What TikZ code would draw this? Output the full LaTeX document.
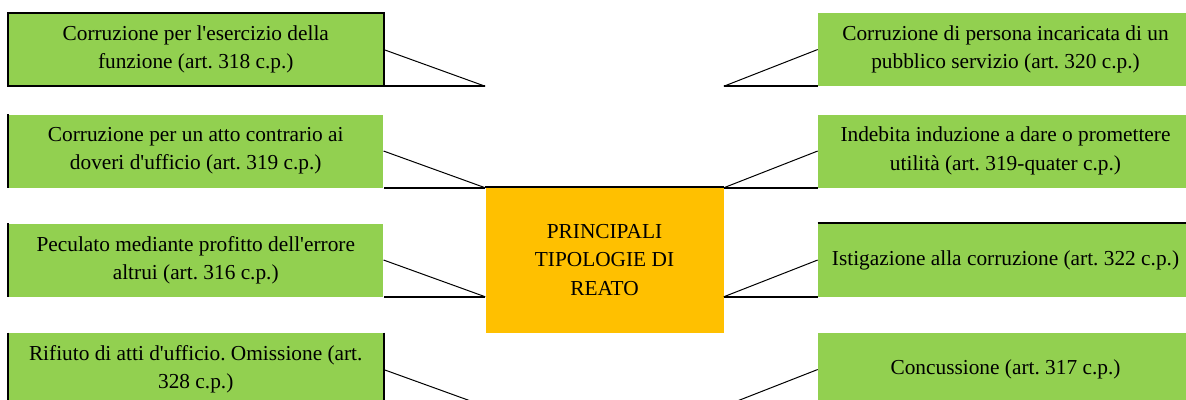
\documentclass[tikz,border=0pt]{standalone}
\usepackage{fontspec}
\setmainfont{Liberation Serif}
\usepackage{tikz}
\usetikzlibrary{positioning,calc}
\frenchspacing
\definecolor{boxGreen}{HTML}{92D050}
\definecolor{boxOrange}{HTML}{FFC000}
\newcommand{\ap}{\textquotesingle}
\tikzstyle{nG}=[rectangle,fill=boxGreen,minimum width=281.25pt,minimum height=54.75pt,inner sep=0pt,align=center,font=\fontsize{16}{21.2}\selectfont]
\tikzstyle{nC}=[rectangle,fill=boxOrange,minimum width=178.5pt,minimum height=109.5pt,inner sep=0pt,align=center,font=\fontsize{16}{21.2}\selectfont]
\tikzstyle{eThin}=[draw=black,line width=0.75pt]
\tikzstyle{eBlack}=[draw=black,line width=1.5pt]

\begin{document}
\begin{tikzpicture}[x=0.75pt,y=-0.75pt]
                \clip (0,0) rectangle (1186,400);
                \draw (604.5,260) node[nC] (c) {PRINCIPALI\\TIPOLOGIE DI\\REATO};
                \draw (195.75,49.5) node[nG] (l1) {Corruzione per l\ap esercizio della\\funzione (art. 318 c.p.)};
                \draw (195.75,151) node[nG] (l2) {Corruzione per un atto contrario ai\\doveri d\ap ufficio (art. 319 c.p.)};
                \draw (195.75,260) node[nG] (l3) {Peculato mediante profitto dell\ap errore\\altrui (art. 316 c.p.)};
                \draw (195.75,369.5) node[nG] (l4) {Rifiuto di atti d\ap ufficio. Omissione (art.\\328 c.p.)};
                \draw (1005.5,49.5) node[nG] (r1) {Corruzione di persona incaricata di un\\pubblico servizio (art. 320 c.p.)};
                \draw (1005.5,151) node[nG] (r2) {Indebita induzione a dare o promettere\\utilità (art. 319-quater c.p.)};
                \draw (1005.5,260) node[nG] (r3) {Istigazione alla corruzione (art. 322 c.p.)};
                \draw (1005.5,369.5) node[nG] (r4) {Concussione (art. 317 c.p.)};
                % borders
                \draw[eBlack] (l1.south west) rectangle (l1.north east);
                \draw[eBlack] (l2.north west) -- (l2.south west);
                \draw[eBlack] (l3.north west) -- (l3.south west);
                \draw[eBlack] (l4.north west) -- (l4.south west);
                \draw[eBlack] (l4.north east) -- (l4.south east);
                \draw[eBlack] (r3.north west) -- (r3.north east);
                \draw[eBlack] (c.north west) -- (c.north east);
                % callout points
                \coordinate (pl1) at (l1.south east -| c.west);
                \coordinate (pl2) at (l2.south east -| c.west);
                \coordinate (pl3) at (l3.south east -| c.west);
                \coordinate (pl4) at (l4.south east -| c.west);
                \coordinate (pr1) at (r1.south west -| c.east);
                \coordinate (pr2) at (r2.south west -| c.east);
                \coordinate (pr3) at (r3.south west -| c.east);
                \coordinate (pr4) at (r4.south west -| c.east);
                \draw[eThin] (l1.east) -- (pl1);
                \draw[eThin] (l2.east) -- (pl2);
                \draw[eThin] (l3.east) -- (pl3);
                \draw[eThin] (l4.east) -- (pl4);
                \draw[eThin] (r1.west) -- (pr1);
                \draw[eThin] (r2.west) -- (pr2);
                \draw[eThin] (r3.west) -- (pr3);
                \draw[eThin] (r4.west) -- (pr4);
                \draw[eBlack] (pl1) -- (l1.south east);
                \draw[eBlack] (pl2) -- (l2.south east);
                \draw[eBlack] (pl3) -- (l3.south east);
                \draw[eBlack] (pl4) -- (l4.south east);
                \draw[eBlack] (pr1) -- (r1.south west);
                \draw[eBlack] (pr2) -- (r2.south west);
                \draw[eBlack] (pr3) -- (r3.south west);
                \draw[eBlack] (pr4) -- (r4.south west);
\end{tikzpicture}
\end{document}
